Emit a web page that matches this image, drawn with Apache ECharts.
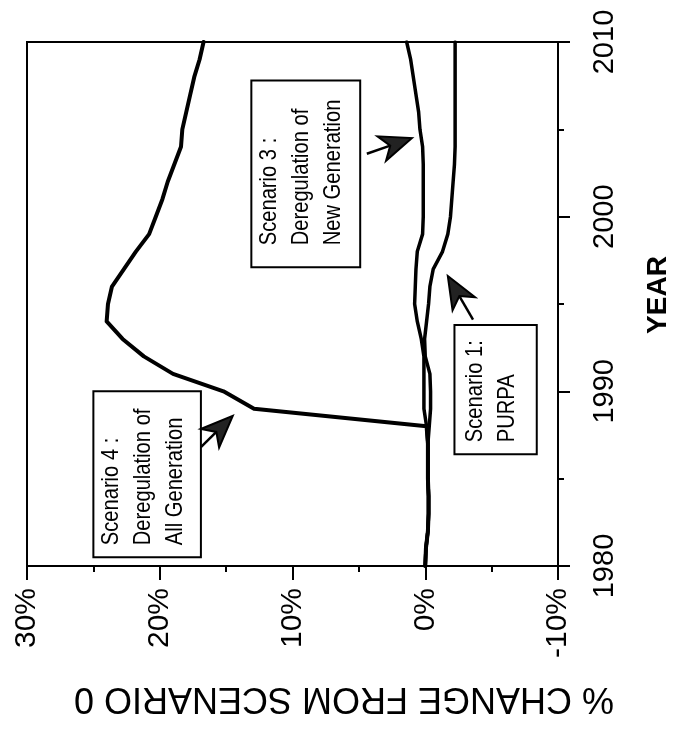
<!DOCTYPE html>
<html>
<head>
<meta charset="utf-8">
<script src="https://cdn.jsdelivr.net/npm/echarts@6/dist/echarts.min.js"></script>
<style>
  html, body { margin: 0; padding: 0; background: #fff; }
  #chart { width: 684px; height: 740px; }
</style>
</head>
<body>
<div id="chart"></div>
<script>
// Years on the vertical axis, percent change on the horizontal axis
const years = [1980, 1981, 1982, 1983, 1984, 1985, 1986, 1987, 1988, 1989,
               1990, 1991, 1992, 1993, 1994, 1995, 1996, 1997, 1998, 1999,
               2000, 2001, 2002, 2003, 2004, 2005, 2006, 2007, 2008, 2009, 2010];

// % change from Scenario 0
const scenario1 = [0.0, -0.05, -0.2, -0.25, -0.25, -0.2, -0.2, -0.2, -0.3, -0.4,
                   -0.4, -0.35, 0.0, 0.05, -0.1, -0.25, -0.35, -0.6, -1.3, -1.7,
                   -1.9, -2.0, -2.1, -2.2, -2.25, -2.25, -2.25, -2.25, -2.25, -2.25, -2.25];
const scenario3 = [0.0, -0.05, -0.2, -0.25, -0.25, -0.2, -0.2, -0.2, -0.1, 0.1,
                   0.1, 0.1, 0.1, 0.3, 0.6, 0.8, 0.75, 0.7, 0.6, 0.2,
                   0.15, 0.15, 0.15, 0.15, 0.2, 0.4, 0.5, 0.7, 0.9, 1.1, 1.4];
const scenario4 = [0.0, -0.05, -0.2, -0.25, -0.25, -0.2, -0.2, -0.2, -0.1, 12.9,
                   15.2, 19.0, 21.2, 22.8, 24.0, 23.9, 23.6, 22.7, 21.8, 20.8,
                   20.3, 19.8, 19.4, 18.9, 18.4, 18.3, 18.0, 17.7, 17.4, 17.0, 16.7];

const pctRange = [-10, 30];
const pctStep = 10;
const yearRange = [1980, 2010];
const yearStep = 10;

const axisTitle = '% CHANGE FROM SCENARIO 0';
const yearTitle = 'YEAR';

// Callout boxes: corners in [pct, year], label lines
const notes = [
  { lines: ['Scenario 4 :', 'Deregulation of', 'All Generation'],
    box: [25.0, 1990.0, 16.9, 1980.5], inset: 12,
    arrowTip: [14.5, 1988.6], arrowTail: [16.9, 1986.8] },
  { lines: ['Scenario 3 :', 'Deregulation of', 'New Generation'],
    box: [13.1, 2007.8, 4.9, 1997.1], inset: 22,
    arrowTip: [1.0, 2004.5], arrowTail: [4.4, 2003.6] },
  { lines: ['Scenario 1:', 'PURPA'],
    box: [-2.2, 1993.8, -8.4, 1986.4], inset: 12,
    arrowTip: [-1.7, 1996.6], arrowTail: [-3.6, 1994.1] }
];

const FONT = '"Liberation Sans", Arial, Helvetica, sans-serif';

function pairs(vals) { return years.map((y, i) => [vals[i], y]); }

const chart = echarts.init(document.getElementById('chart'), null, { renderer: 'canvas' });

const lineBase = { type: 'line', showSymbol: false, symbol: 'none', silent: true, animation: false, z: 3 };

chart.setOption({
  backgroundColor: '#fff',
  animation: false,
  grid: { left: 27, right: 126, top: 42, bottom: 174, show: true, borderColor: '#000', borderWidth: 2, backgroundColor: 'transparent' },
  xAxis: {
    type: 'value', min: pctRange[0], max: pctRange[1], interval: pctStep, inverse: true,
    position: 'bottom',
    axisLine: { show: true, onZero: false, lineStyle: { color: '#000', width: 2 } },
    axisTick: { show: true, inside: false, length: 14, lineStyle: { color: '#000', width: 2 } },
    minorTick: { show: true, splitNumber: 2, length: 6, lineStyle: { color: '#000', width: 2 } },
    splitLine: { show: false },
    axisLabel: { rotate: 90, margin: 22, color: '#000', fontSize: 30, fontFamily: FONT,
                 formatter: v => v + '%' }
  },
  yAxis: {
    type: 'value', min: yearRange[0], max: yearRange[1], interval: yearStep,
    position: 'right',
    axisLine: { show: true, onZero: false, lineStyle: { color: '#000', width: 2 } },
    axisTick: { show: true, inside: false, length: 12, lineStyle: { color: '#000', width: 2 } },
    minorTick: { show: true, splitNumber: 2, length: 6, lineStyle: { color: '#000', width: 2 } },
    splitLine: { show: false },
    axisLabel: { rotate: 90, margin: 32, color: '#000', fontSize: 29, fontFamily: FONT,
                 formatter: v => String(v) }
  },
  series: [
    Object.assign({}, lineBase, {
      name: 'Scenario 0', data: [],
      markLine: { silent: true, symbol: 'none', animation: false, label: { show: false },
        lineStyle: { color: '#000', width: 1, type: 'solid' },
        data: [[{ coord: [0, yearRange[0]] }, { coord: [0, yearRange[1] + 0.4] }]] }
    }),
    Object.assign({}, lineBase, { name: 'Scenario 1', data: pairs(scenario1),
      lineStyle: { color: '#000', width: 3.5, cap: 'round', join: 'round' } }),
    Object.assign({}, lineBase, { name: 'Scenario 3', data: pairs(scenario3),
      lineStyle: { color: '#000', width: 3.5, cap: 'round', join: 'round' } }),
    Object.assign({}, lineBase, { name: 'Scenario 4', data: pairs(scenario4),
      lineStyle: { color: '#000', width: 4, cap: 'round', join: 'round' } })
  ]
});

// Callouts and axis titles, positioned from data coordinates
function px(p) { return chart.convertToPixel({ gridIndex: 0 }, p); }

const graphics = [];
notes.forEach(n => {
  const a = px([n.box[0], n.box[1]]);
  const b = px([n.box[2], n.box[3]]);
  const x0 = Math.min(a[0], b[0]), x1 = Math.max(a[0], b[0]);
  const y0 = Math.min(a[1], b[1]), y1 = Math.max(a[1], b[1]);
  graphics.push({ type: 'rect', z: 10, shape: { x: x0, y: y0, width: x1 - x0, height: y1 - y0 },
    style: { fill: '#fff', stroke: '#000', lineWidth: 2 } });
  // condensed lettering: squeeze along the reading direction
  graphics.push({ type: 'text', z: 11, x: (x0 + x1) / 2 - 4, y: y1 - n.inset,
    rotation: Math.PI / 2, scaleX: 0.84, scaleY: 1,
    style: { text: n.lines.join('\n'), fill: '#000', font: '24px ' + FONT,
             align: 'left', verticalAlign: 'middle', lineHeight: 32 } });

  // arrow: short shaft and barbed head
  const tip = px(n.arrowTip), tail = px(n.arrowTail);
  const dx = tip[0] - tail[0], dy = tip[1] - tail[1];
  const len = Math.hypot(dx, dy), ux = dx / len, uy = dy / len;
  const vx = -uy, vy = ux;
  const headLen = 32, half = 13;
  const base = [tip[0] - ux * headLen, tip[1] - uy * headLen];
  const notch = [tip[0] - ux * headLen * 0.72, tip[1] - uy * headLen * 0.72];
  graphics.push({ type: 'line', z: 12, shape: { x1: tail[0], y1: tail[1], x2: notch[0], y2: notch[1] },
    style: { stroke: '#000', lineWidth: 2.5 } });
  graphics.push({ type: 'polygon', z: 12, shape: { points: [
      tip, [base[0] + vx * half, base[1] + vy * half], notch, [base[0] - vx * half, base[1] - vy * half]] },
    style: { fill: '#222', stroke: '#000', lineWidth: 2, lineJoin: 'miter' } });
});

graphics.push({ type: 'text', z: 11, x: 344, y: 698, rotation: Math.PI,
  style: { text: axisTitle, fill: '#000', font: '36px ' + FONT, align: 'center', verticalAlign: 'middle' } });
graphics.push({ type: 'text', z: 11, x: 658, y: 295, rotation: Math.PI / 2,
  style: { text: yearTitle, fill: '#000', font: 'bold 28px ' + FONT, align: 'center', verticalAlign: 'middle' } });

chart.setOption({ graphic: graphics });
</script>
</body>
</html>
